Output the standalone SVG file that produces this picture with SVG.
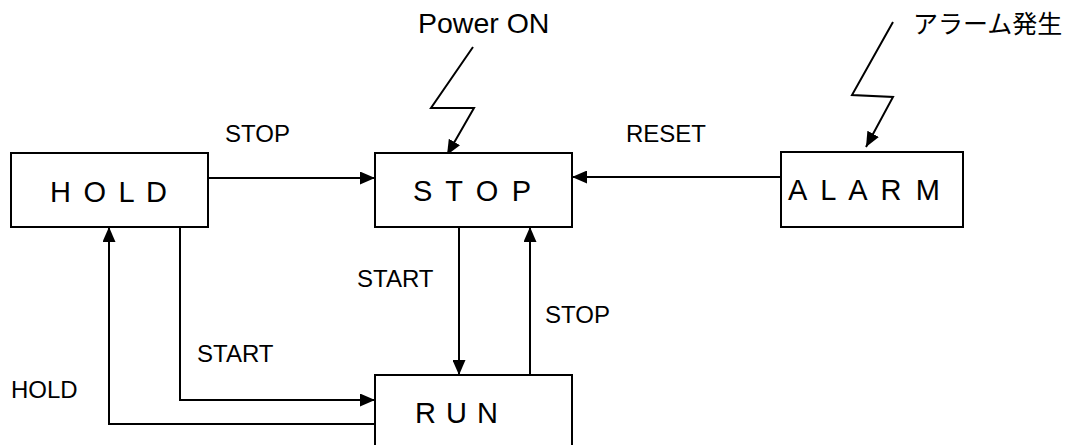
<svg xmlns="http://www.w3.org/2000/svg" width="1070" height="445" viewBox="0 0 1070 445">
<defs>
<marker id="ah" viewBox="0 0 15 13" refX="15" refY="6.5" markerWidth="15" markerHeight="13" markerUnits="userSpaceOnUse" orient="auto">
<path d="M0,0 L15,6.5 L0,13 Z" fill="#000"/>
</marker>
</defs>
<style>
.box{fill:#fff;stroke:#000;stroke-width:2}
.bt{font-family:"Liberation Sans",Arial,sans-serif;font-size:29px;fill:#000}
.lb{font-family:"Liberation Sans",Arial,sans-serif;font-size:24px;fill:#000}
.cn{fill:none;stroke:#000;stroke-width:2;marker-end:url(#ah)}
</style>
<rect width="1070" height="445" fill="#fff"/>
<g id="connectors">
<path class="cn" d="M208,178 H375"/>
<path class="cn" d="M781,177 H572"/>
<path class="cn" d="M459,227 V375"/>
<path class="cn" d="M530,375 V227"/>
<path class="cn" d="M180,227 V400 H375"/>
<path class="cn" d="M375,424 H109 V227"/>
<path class="cn" d="M473,47 L431,108 L474,108 L447,155"/>
<path class="cn" d="M893,22 L852,95 L893,97 L866,147"/>
</g>
<g id="labels">
<text class="lb" x="225" y="142">STOP</text>
<text class="lb" x="626" y="142">RESET</text>
<text class="lb" x="357" y="287">START</text>
<text class="lb" x="545" y="323">STOP</text>
<text class="lb" x="197" y="362">START</text>
<text class="lb" x="11" y="398">HOLD</text>
<text x="418" y="33" font-family="Liberation Sans,Arial,sans-serif" font-size="28.5">Power ON</text>
<text x="913" y="33" font-family="Liberation Sans,'Noto Sans CJK JP',sans-serif" font-size="25">アラーム発生</text>
</g>
<g id="node-hold">
<rect class="box" x="11" y="153" width="197" height="74"/>
<text class="bt" x="50" y="202" textLength="117" lengthAdjust="spacing">H O L D</text>
</g>
<g id="node-stop">
<rect class="box" x="375" y="153" width="197" height="74"/>
<text class="bt" x="413" y="201" textLength="118" lengthAdjust="spacing">S T O P</text>
</g>
<g id="node-alarm">
<rect class="box" x="781" y="152" width="182" height="75"/>
<text class="bt" x="788" y="200" textLength="152" lengthAdjust="spacing">A L A R M</text>
</g>
<g id="node-run">
<rect class="box" x="375" y="375" width="197" height="80"/>
<text class="bt" x="415" y="423" textLength="83" lengthAdjust="spacing">R U N</text>
</g>
</svg>
